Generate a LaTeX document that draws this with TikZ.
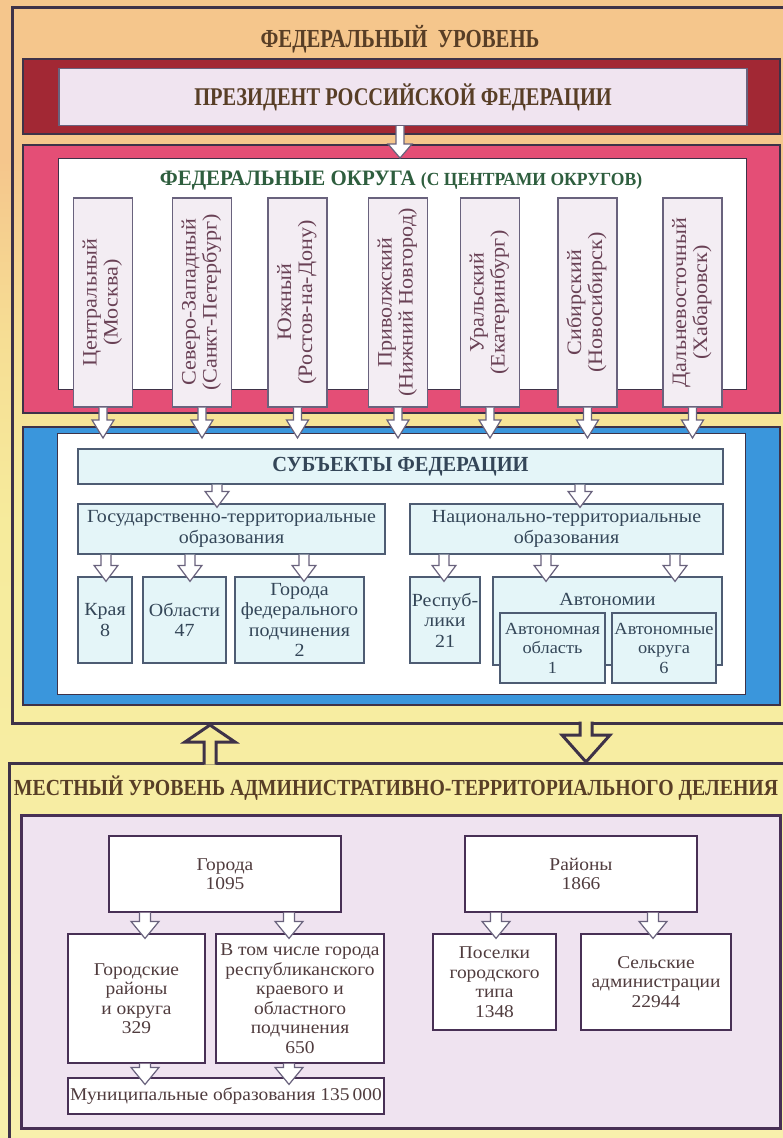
\documentclass[tikz,border=0pt]{standalone}
\usepackage{fontspec}
\setmainfont{Liberation Serif}[FakeStretch=1.08]
\newfontfamily\headfont{Liberation Serif}[FakeStretch=0.8]
\newfontfamily\headmid{Liberation Serif}[FakeStretch=0.86]
\newfontfamily\headwide{Liberation Serif}[FakeStretch=0.95]
\usetikzlibrary{calc}

\definecolor{bgtop}{RGB}{245,198,140}
\definecolor{bgmid}{RGB}{246,222,148}
\definecolor{bgyel}{RGB}{246,235,156}
\definecolor{bgbot}{RGB}{248,240,172}
\definecolor{frameline}{RGB}{62,50,72}
\definecolor{presred}{RGB}{162,40,52}
\definecolor{presfill}{RGB}{240,228,240}
\definecolor{okrpink}{RGB}{228,78,118}
\definecolor{okrfill}{RGB}{243,237,243}
\definecolor{okrline}{RGB}{105,98,125}
\definecolor{subjblue}{RGB}{58,150,220}
\definecolor{subjfill}{RGB}{228,245,248}
\definecolor{subjline}{RGB}{78,92,115}
\definecolor{locfill}{RGB}{239,227,240}
\definecolor{locline}{RGB}{72,48,85}
\definecolor{headbrown}{RGB}{88,62,38}
\definecolor{headgreen}{RGB}{46,94,62}
\definecolor{textslate}{RGB}{52,70,88}
\definecolor{textmauve}{RGB}{105,65,85}
\definecolor{textlocal}{RGB}{80,60,62}

\pgfdeclareverticalshading{bgshade}{100bp}{color(0bp)=(bgbot); color(25bp)=(bgbot); color(52bp)=(bgyel); color(60bp)=(bgmid); color(68bp)=(bgtop); color(100bp)=(bgtop)}

% rotated two-line label of a district
\newcommand{\vtext}[1]{\rotatebox{90}{\begin{tabular}{@{}c@{}}#1\end{tabular}}}
% hollow block arrow: style, x, from, to, stem half width, head half width, head length
\newcommand{\blockarrow}[7]{%
  \draw[#1] let \p1=(#3), \p2=(#4) in
    ({#2-#5},\y1) -- ({#2-#5},{\y2+(#7)}) -- ({#2-#6},{\y2+(#7)}) -- (#2,\y2)
    -- ({#2+#6},{\y2+(#7)}) -- ({#2+#5},{\y2+(#7)}) -- ({#2+#5},\y1);}

\begin{document}
\begin{tikzpicture}[x=1pt,y=-1pt]
  \tikzstyle{level}=[line width=3pt,draw=frameline]
  \tikzstyle{frame}=[line width=2.5pt,draw=frameline]
  \tikzstyle{panel}=[draw=frameline,line width=1pt,fill=white,inner sep=0pt]
  \tikzstyle{headline}=[font=\headfont\bfseries\fontsize{26}{28}\selectfont,text=headbrown]
  \tikzstyle{okrbox}=[draw=okrline,line width=1.2pt,fill=okrfill,minimum width=59pt,minimum height=209pt,inner sep=0pt,text=textmauve,font=\fontsize{20.5}{21}\selectfont]
  \tikzstyle{subjbox}=[draw=subjline,line width=1.2pt,fill=subjfill,inner sep=0pt,align=center,text=textslate,font=\fontsize{18.5}{20.5}\selectfont]
  \tikzstyle{subjlabel}=[anchor=center,yshift=-23pt,text=textslate,font=\fontsize{18.5}{20.5}\selectfont]
  \tikzstyle{locbox}=[draw=locline,line width=1.2pt,fill=white,inner sep=0pt,align=center,text=textlocal,font=\fontsize{18}{19.5}\selectfont]
  \tikzstyle{thinarrow}=[draw=okrline,line width=1.2pt,fill=white]
  \tikzstyle{levelarrow}=[draw=frameline,line width=3pt,fill=bgyel]

  \useasboundingbox (0,0) rectangle (783,1138);
  \shade[shading=bgshade] (0,0) rectangle (783,1138);

  % levels
  \draw[level] (783,7) -- (12,7) -- (12,723) -- (783,723);
  \draw[level] (783,763) -- (9,763) -- (9,1140);
  \coordinate (fedbot) at (0,723);
  \coordinate (loctop) at (0,763);
  \blockarrow{levelarrow}{210}{$(loctop)+(0,1.5)$}{$(fedbot)+(0,2)$}{6}{25}{-17}
  \blockarrow{levelarrow}{586}{$(fedbot)+(0,-1.5)$}{$(loctop)+(0,-1)$}{6}{24}{27}

  \node[headline] (fedtitle) at (400,39) {ФЕДЕРАЛЬНЫЙ\hspace{5pt} УРОВЕНЬ};

  % president
  \draw[frame,fill=presred] (23,59) rectangle (780,134);
  \node[draw=okrline,line width=1.2pt,fill=presfill,minimum width=688pt,minimum height=57pt,headline,font=\headfont\bfseries\fontsize{25.5}{27}\selectfont] (pres) at (403,97) {ПРЕЗИДЕНТ РОССИЙСКОЙ ФЕДЕРАЦИИ};

  % federal districts
  \draw[frame,fill=okrpink] (23,145) rectangle (780,413);
  \node[panel,minimum width=688pt,minimum height=231pt,anchor=north west] (okrpanel) at (58,158) {};
  \node[text=headgreen,font=\headwide\bfseries\fontsize{22}{24}\selectfont] (okrtitle) at (401,181) {ФЕДЕРАЛЬНЫЕ ОКРУГА {\fontsize{18.5}{20}\selectfont(С ЦЕНТРАМИ ОКРУГОВ)}};
  \blockarrow{thinarrow}{400}{pres.south}{pres.south |- okrpanel.north}{4}{12}{14}

  \node[okrbox] (centr) at (103,302.5) {\vtext{Центральный\\(Москва)}};
  \node[okrbox] (szap) at (202,302.5) {\vtext{Северо-Западный\\(Санкт-Петербург)}};
  \node[okrbox] (yug) at (297.5,302.5) {\vtext{Южный\\(Ростов-на-Дону)}};
  \node[okrbox] (privol) at (398,302.5) {\vtext{Приволжский\\(Нижний Новгород)}};
  \node[okrbox] (ural) at (490,302.5) {\vtext{Уральский\\(Екатеринбург)}};
  \node[okrbox] (sibir) at (587.5,302.5) {\vtext{Сибирский\\(Новосибирск)}};
  \node[okrbox] (dvost) at (692.5,302.5) {\vtext{Дальневосточный\\(Хабаровск)}};

  % subjects of the federation
  \draw[frame,fill=subjblue] (23,427) rectangle (780,705);
  \node[panel,minimum width=688pt,minimum height=261pt,anchor=north west] (subjpanel) at (57,433) {};
  \foreach \o/\xx in {centr/103,szap/202,yug/297.5,privol/398,ural/490,sibir/587.5,dvost/692.5}
    {\blockarrow{thinarrow}{\xx}{\o.south}{$(subjpanel.north)+(0,5)$}{4}{11}{18}}

  \node[subjbox,minimum width=645pt,minimum height=35pt,font=\headwide\bfseries\fontsize{21.5}{23}\selectfont] (subj) at (400.5,466.5) {СУБЪЕКТЫ ФЕДЕРАЦИИ};
  \node[subjbox,minimum width=307pt,minimum height=50pt] (gos) at (231.5,529) {Государственно-территориальные\\образования};
  \node[subjbox,minimum width=313pt,minimum height=50pt] (nac) at (566.5,529) {Национально-территориальные\\образования};
  \node[subjbox,minimum width=54pt,minimum height=86pt] (kraya) at (105,620) {Края\\8};
  \node[subjbox,minimum width=83pt,minimum height=86pt] (oblasti) at (184.5,620) {Области\\47};
  \node[subjbox,minimum width=129pt,minimum height=86pt] (gorfed) at (299.5,620) {Города\\федерального\\подчинения\\2};
  \node[subjbox,minimum width=70pt,minimum height=86pt] (resp) at (445,620) {Респуб-\\лики\\21};
  \node[subjbox,minimum width=229pt,minimum height=88pt,label={[subjlabel]north:Автономии}] (avton) at (607.5,621) {};
  \node[subjbox,minimum width=105pt,minimum height=70pt,font=\fontsize{17}{19.5}\selectfont] (avtobl) at (552.5,648) {Автономная\\область\\1};
  \node[subjbox,minimum width=104pt,minimum height=70pt,font=\fontsize{17}{19.5}\selectfont] (avtokr) at (664,648) {Автономные\\округа\\6};

  \blockarrow{thinarrow}{217}{subj.south}{$(gos.north)+(0,4)$}{5}{12}{16}
  \blockarrow{thinarrow}{580}{subj.south}{$(nac.north)+(0,4)$}{5}{12}{16}
  \foreach \t/\xx in {kraya/106,oblasti/190,gorfed/304}
    {\blockarrow{thinarrow}{\xx}{gos.south}{$(\t.north)+(0,5)$}{5}{12}{16}}
  \foreach \t/\xx in {resp/444,avton/546,avton/675}
    {\blockarrow{thinarrow}{\xx}{nac.south}{$(\t.north)+(0,5)$}{5}{12}{16}}

  % local level
  \node[headline,font=\headmid\bfseries\fontsize{23}{25}\selectfont] (loctitle) at (396,788) {МЕСТНЫЙ УРОВЕНЬ АДМИНИСТРАТИВНО-ТЕРРИТОРИАЛЬНОГО ДЕЛЕНИЯ};
  \draw[frame,line width=3pt,draw=locline,fill=locfill] (21,815) rectangle (780,1128);

  \node[locbox,minimum width=232pt,minimum height=76pt] (gorod) at (225,874) {Города\\1095};
  \node[locbox,minimum width=232pt,minimum height=76pt] (raion) at (581,874) {Районы\\1866};
  \node[locbox,minimum width=137pt,minimum height=129pt] (gorraion) at (136.5,998.5) {Городские\\районы\\и округа\\329};
  \node[locbox,minimum width=168pt,minimum height=129pt] (vtom) at (300,998.5) {В том числе города\\республиканского\\краевого и\\областного\\подчинения\\650};
  \node[locbox,minimum width=123pt,minimum height=96pt] (poselki) at (494.5,982) {Поселки\\городского\\типа\\1348};
  \node[locbox,minimum width=150pt,minimum height=96pt] (selskie) at (656,982) {Сельские\\администрации\\22944};
  \node[locbox,minimum width=316pt,minimum height=36pt] (munic) at (226,1096) {Муниципальные образования 135\,000};

  \blockarrow{thinarrow}{145}{gorod.south}{$(gorraion.north)+(0,5)$}{5.5}{14}{17}
  \blockarrow{thinarrow}{289}{gorod.south}{$(vtom.north)+(0,5)$}{5.5}{14}{17}
  \blockarrow{thinarrow}{496}{raion.south}{$(poselki.north)+(0,5)$}{5.5}{14}{17}
  \blockarrow{thinarrow}{653}{raion.south}{$(selskie.north)+(0,5)$}{5.5}{14}{17}
  \blockarrow{thinarrow}{145}{gorraion.south}{$(munic.north)+(0,7)$}{5.5}{14}{17}
  \blockarrow{thinarrow}{289}{vtom.south}{$(munic.north)+(0,7)$}{5.5}{14}{17}
\end{tikzpicture}
\end{document}
